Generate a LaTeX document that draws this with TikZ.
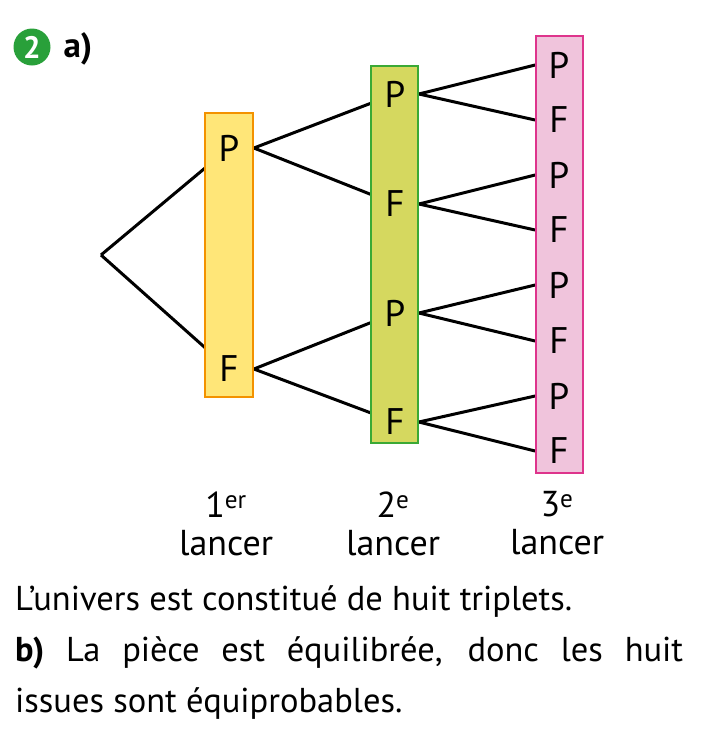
\documentclass[tikz,border=0pt]{standalone}
\usepackage{fontspec}
\setmainfont{PT Sans}
\usetikzlibrary{positioning,fit,backgrounds}
\definecolor{cbYellow}{HTML}{FFE678}
\definecolor{cbOrange}{HTML}{F39200}
\definecolor{cbLime}{HTML}{D5D85F}
\definecolor{cbGreen}{HTML}{3BA935}
\definecolor{cbPink}{HTML}{F0C4DC}
\definecolor{cbMagenta}{HTML}{DE348C}
\definecolor{cbBadge}{HTML}{29A03A}

\begin{document}
\begin{tikzpicture}[x=1pt,y=-1pt,
  font=\fontsize{37}{40}\selectfont,
  issue/.style={inner sep=0pt},
  column/.style={draw,line width=1.8pt,inner sep=0pt},
  first/.style={column,fill=cbYellow,draw=cbOrange},
  second/.style={column,fill=cbLime,draw=cbGreen},
  third/.style={column,fill=cbPink,draw=cbMagenta},
  lancer/.style={align=center,font=\fontsize{36}{38}\selectfont},
  edge/.style={line width=3pt}]
  \useasboundingbox (0,0) rectangle (706,740);
  % exercise number
  \node[circle,fill=cbBadge,text=white,font=\fontsize{31}{31}\selectfont\bfseries,inner sep=0pt,minimum size=37pt] (num) at (32,47) {2};
  \node[anchor=base west,font=\fontsize{35}{40}\selectfont\bfseries] (qa) at (60,57) {a)};
  % columns
  \node[first,fit={(205,113) (253,397)}] (box1) {};
  \node[second,fit={(371,66) (418,443)}] (box2) {};
  \node[third,fit={(536,36) (583,473)}] (box3) {};
  \coordinate (root) at (101,255);
  \node[issue] (p) at (229,148) {P};
  \node[issue] (f) at (229,369) {F};
  \node[issue] (pp) at (395,94) {P};
  \node[issue] (pf) at (395,204) {F};
  \node[issue] (fp) at (395,313) {P};
  \node[issue] (ff) at (395,422) {F};
  \node[issue] (ppp) at (559,65) {P};
  \node[issue] (ppf) at (559,120) {F};
  \node[issue] (pfp) at (559,175) {P};
  \node[issue] (pff) at (559,230) {F};
  \node[issue] (fpp) at (559,285) {P};
  \node[issue] (fpf) at (559,341) {F};
  \node[issue] (ffp) at (559,396) {P};
  \node[issue] (fff) at (559,451) {F};
  \begin{scope}[on background layer]
    \draw[edge] (root) -- (p);
    \draw[edge] (root) -- (f);
    \draw[edge] (p -| box1.east) -- (pp);
    \draw[edge] (p -| box1.east) -- (pf);
    \draw[edge] (f -| box1.east) -- (fp);
    \draw[edge] (f -| box1.east) -- (ff);
    \draw[edge] (pp -| box2.east) -- (ppp -| box3.west);
    \draw[edge] (pp -| box2.east) -- (ppf -| box3.west);
    \draw[edge] (pf -| box2.east) -- (pfp -| box3.west);
    \draw[edge] (pf -| box2.east) -- (pff -| box3.west);
    \draw[edge] (fp -| box2.east) -- (fpp -| box3.west);
    \draw[edge] (fp -| box2.east) -- (fpf -| box3.west);
    \draw[edge] (ff -| box2.east) -- (ffp -| box3.west);
    \draw[edge] (ff -| box2.east) -- (fff -| box3.west);
  \end{scope}
  % column labels
  \node[lancer,anchor=north] (lab1) at (226,488) {1\textsuperscript{er}\\lancer};
  \node[lancer,anchor=north] (lab2) at (393,488) {2\textsuperscript{e}\\lancer};
  \node[lancer,anchor=north] (lab3) at (557,488) {3\textsuperscript{e}\\lancer};
  % answer text
  \node[anchor=north west,inner sep=0pt,text width=668pt,align=justify,
    font=\fontsize{34.5}{51}\selectfont] (answer) at (15,585)
    {L’univers est constitué de huit triplets.\\
     \textbf{b)} La pièce est équilibrée, donc les huit\linebreak
     issues sont équiprobables.};
\end{tikzpicture}
\end{document}
